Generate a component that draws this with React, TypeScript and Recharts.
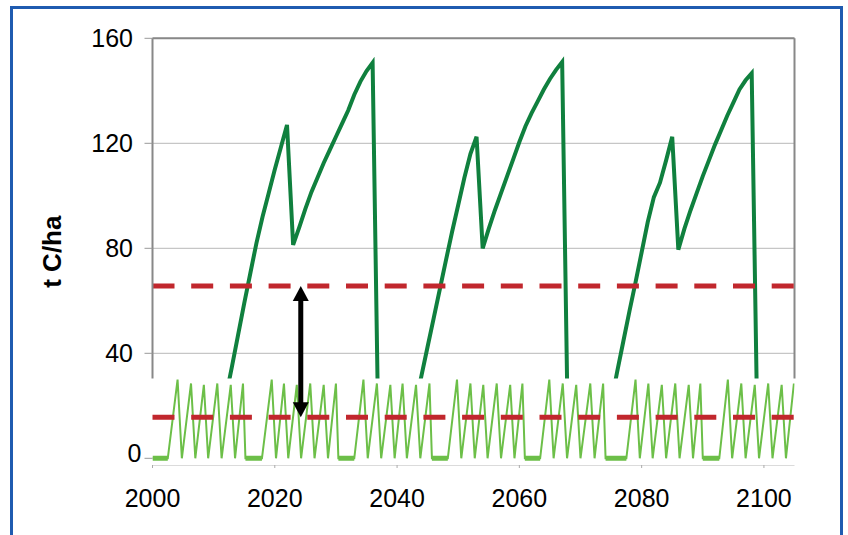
import React from "react";
import {
  ComposedChart,
  Line,
  XAxis,
  YAxis,
  CartesianGrid,
  ReferenceLine,
  ReferenceArea,
} from "recharts";

const W = 848;
const H = 535;
const MARGIN = { top: 38.3, right: 53.5, bottom: 0, left: 0 };
const X_DOMAIN: [number, number] = [2000, 2105];
const Y_DOMAIN: [number, number] = [-2.55, 160];
const X_TICKS = [2000, 2020, 2040, 2060, 2080, 2100];
const Y_TICKS = [40, 80, 120, 160];

const DARK = "#10803e";
const LIGHT = "#6cbf48";
const RED = "#c1272d";

// forest carbon stock, three rotations (t C/ha)
const rotation1 = [
  [2010, 0], [2011, 11.5], [2012, 23.4], [2013, 35], [2014, 47], [2015, 59],
  [2016, 70.5], [2017, 82], [2018, 92], [2019, 101], [2020, 110], [2021, 118.5],
  [2022, 127], [2023, 81.3], [2024, 88], [2025, 95], [2026, 101.5], [2027, 107],
  [2028, 112.5], [2029, 117.5], [2030, 122.5], [2031, 127.5], [2032, 132.5],
  [2033, 138.5], [2034, 143.5], [2035, 147.5], [2036, 150.7], [2037, 0],
];
const rotation2 = [
  [2041, 0], [2042, 9.5], [2043, 20.6], [2044, 31.6], [2045, 42.6], [2046, 53.5],
  [2047, 64.5], [2048, 75.5], [2049, 86.3], [2050, 96.5], [2051, 106.8], [2052, 116],
  [2053, 122.5], [2054, 80], [2055, 87.5], [2056, 94.5], [2057, 101], [2058, 107.5],
  [2059, 114], [2060, 120.5], [2061, 126.5], [2062, 131.5], [2063, 136],
  [2064, 140.5], [2065, 144.5], [2066, 148], [2067, 151], [2068, 0],
];
const rotation3 = [
  [2073, 0], [2074, 9], [2075, 21], [2076, 33], [2077, 44.5], [2078, 56],
  [2079, 67], [2080, 78.5], [2081, 90], [2082, 99.5], [2083, 105], [2084, 113.5],
  [2085, 122.5], [2086, 79.5], [2087, 87.5], [2088, 94.5], [2089, 101], [2090, 107.5],
  [2091, 113.5], [2092, 119.5], [2093, 125], [2094, 130.5], [2095, 135.5],
  [2096, 140.5], [2097, 144], [2098, 146.7], [2099, 0],
];

// annual crop carbon, cycles between fallow periods
const crop1 = [
  [2000, 0], [2002.5, 0], [2004.1, 30], [2004.8, 0], [2006.3, 28.5], [2007.0, 0],
  [2008.4, 28], [2009.1, 0], [2010.6, 28.5], [2011.3, 0], [2012.8, 28], [2013.5, 0],
  [2014.8, 28.5], [2015.2, 0],
];
const crop2 = [
  [2017.9, 0], [2019.5, 30], [2020.2, 0], [2021.5, 28.5], [2022.2, 0], [2023.6, 28],
  [2024.3, 0], [2025.8, 28.5], [2026.5, 0], [2028.0, 28], [2028.7, 0], [2030.0, 28.5],
  [2030.4, 0],
];
const crop3 = [
  [2033.0, 0], [2034.5, 30], [2035.2, 0], [2036.7, 28.5], [2037.4, 0], [2038.9, 28],
  [2039.6, 0], [2040.9, 28.5], [2041.6, 0], [2043.1, 28], [2043.8, 0], [2045.3, 28.5],
  [2045.7, 0],
];
const crop4 = [
  [2048.3, 0], [2049.8, 30], [2050.5, 0], [2052.0, 28.5], [2052.7, 0], [2054.1, 28],
  [2054.8, 0], [2056.3, 28.5], [2057.0, 0], [2058.5, 28], [2059.2, 0], [2060.5, 28.5],
  [2060.9, 0],
];
const crop5 = [
  [2063.4, 0], [2064.9, 30], [2065.6, 0], [2067.1, 28.5], [2067.8, 0], [2069.3, 28],
  [2070.0, 0], [2071.6, 28.5], [2072.3, 0], [2073.7, 28.5], [2074.1, 0],
];
const crop6 = [
  [2077.5, 0], [2079.0, 30], [2079.7, 0], [2081.1, 28.5], [2081.8, 0], [2083.3, 28],
  [2084.0, 0], [2085.5, 28.5], [2086.2, 0], [2087.7, 28], [2088.4, 0], [2089.6, 28.5],
  [2090.0, 0],
];
const crop7 = [
  [2092.7, 0], [2094.1, 30], [2094.8, 0], [2096.3, 28.5], [2097.0, 0], [2098.5, 28],
  [2099.2, 0], [2100.7, 28.5], [2101.4, 0], [2102.9, 28], [2103.6, 0], [2104.9, 28.5],
];

const fallowSpans = [
  [2000, 2002.5], [2015.2, 2017.9], [2030.4, 2033.0], [2045.7, 2048.3],
  [2060.9, 2063.4], [2074.1, 2077.5], [2090.0, 2092.7],
];

const upperLevel = 65.6;
const lowerLevel = 15.6;
const arrowYear = 2024.25;

const forestData = [[2000, 0], ...rotation1, ...rotation2, ...rotation3, [2105, 0]].map(
  ([year, stock]) => ({ year, stock })
);
const cropData = [...crop1, ...crop2, ...crop3, ...crop4, ...crop5, ...crop6, ...crop7].map(
  ([year, c]) => ({ year, c })
);
const fallowData = fallowSpans.flatMap(([a, b]) => [
  { year: a, f: 0 },
  { year: b, f: 0 },
  { year: b, f: null },
]);

const Arrow = (p: any) => {
  const x = p.x1;
  const top = Math.min(p.y1, p.y2);
  const bottom = Math.max(p.y1, p.y2);
  const hw = 8;
  const hh = 15;
  return (
    <g>
      <line x1={x} x2={x} y1={top + hh - 1} y2={bottom - hh + 1} stroke="#000" strokeWidth={5} />
      <polygon points={`${x},${top} ${x - hw},${top + hh} ${x + hw},${top + hh}`} fill="#000" />
      <polygon points={`${x},${bottom} ${x - hw},${bottom - hh} ${x + hw},${bottom - hh}`} fill="#000" />
    </g>
  );
};

const ZeroTick = (p: any) => (
  <text x={p.x} y={p.y} dy={-5} textAnchor="end" dominantBaseline="central" fontSize={25} fill="#000">
    {p.payload.value}
  </text>
);

const layer: React.CSSProperties = { position: "absolute", left: 0, top: 0 };

export default function App() {
  return (
    <div
      style={{
        position: "absolute",
        left: 0,
        top: 0,
        width: W,
        height: H,
        overflow: "hidden",
        background: "#fff",
        fontFamily: "'Liberation Sans', Arial, sans-serif",
      }}
    >
      <div
        style={{
          position: "absolute",
          left: 10,
          top: 6,
          width: 833,
          height: 600,
          border: "3px solid #1f5bb0",
          boxSizing: "border-box",
        }}
      />
      {/* base chart: grid, axes, forest stock */}
      <div style={layer}>
        <ComposedChart width={W} height={H} margin={MARGIN}>
          <CartesianGrid vertical={false} stroke="#b8b8b8" />
          <XAxis
            type="number"
            dataKey="year"
            domain={X_DOMAIN}
            ticks={X_TICKS}
            interval={0}
            allowDataOverflow
            height={70}
            axisLine={false}
            tickLine={{ stroke: "#aaa" }}
            tickSize={3}
            tickMargin={21}
            tick={{ fill: "#000", fontSize: 25 }}
          />
          <YAxis
            type="number"
            domain={Y_DOMAIN}
            ticks={Y_TICKS}
            interval={0}
            allowDataOverflow
            width={152.5}
            axisLine={{ stroke: "#888", strokeWidth: 2 }}
            tickLine={{ stroke: "#999" }}
            tickSize={8}
            tickMargin={11.5}
            tick={{ fill: "#000", fontSize: 25 }}
            label={{
              value: "t C/ha",
              angle: -90,
              position: "insideLeft",
              offset: 52,
              style: { textAnchor: "middle", fontSize: 26, fontWeight: "bold", fill: "#000" },
            }}
          />
          <ReferenceLine y={160} stroke="#888" strokeWidth={2} />
          <ReferenceLine x={2105} stroke="#888" strokeWidth={2} />
          <Line
            data={forestData}
            dataKey="stock"
            type="linear"
            stroke={DARK}
            strokeWidth={4}
            dot={false}
            activeDot={false}
            isAnimationActive={false}
          />
          <ReferenceLine y={upperLevel} stroke={RED} strokeWidth={5} strokeDasharray="22 16.7" />
        </ComposedChart>
      </div>
      {/* white panel covering the lower band */}
      <div style={layer}>
        <ComposedChart width={W} height={H} margin={MARGIN}>
          <XAxis type="number" dataKey="year" domain={X_DOMAIN} allowDataOverflow height={70} tick={false} axisLine={false} tickLine={false} />
          <YAxis type="number" domain={Y_DOMAIN} allowDataOverflow width={152.5} tick={false} axisLine={false} tickLine={false} />
          <ReferenceArea x1={1999.6} x2={2105.3} y1={-2.55} y2={30.4} fill="#fff" fillOpacity={1} stroke="none" ifOverflow="visible" />
        </ComposedChart>
      </div>
      {/* crop chart on top */}
      <div style={layer}>
        <ComposedChart width={W} height={H} margin={MARGIN}>
          <XAxis type="number" dataKey="year" domain={X_DOMAIN} allowDataOverflow height={70} tick={false} axisLine={false} tickLine={false} />
          <YAxis
            type="number"
            domain={Y_DOMAIN}
            ticks={[0]}
            interval={0}
            allowDataOverflow
            width={152.5}
            axisLine={false}
            tickLine={{ stroke: "#999" }}
            tickSize={8}
            tickMargin={3}
            tick={ZeroTick}
          />
          <Line
            data={fallowData}
            dataKey="f"
            type="linear"
            stroke={LIGHT}
            strokeWidth={5}
            dot={false}
            activeDot={false}
            isAnimationActive={false}
          />
          <Line
            data={cropData}
            dataKey="c"
            type="linear"
            stroke={LIGHT}
            strokeWidth={2}
            dot={false}
            activeDot={false}
            isAnimationActive={false}
          />
          <ReferenceLine y={lowerLevel} stroke={RED} strokeWidth={5} strokeDasharray="22 16.7" />
          <ReferenceLine
            segment={[
              { x: arrowYear, y: lowerLevel },
              { x: arrowYear, y: upperLevel },
            ]}
            shape={Arrow}
          />
        </ComposedChart>
      </div>
    </div>
  );
}
